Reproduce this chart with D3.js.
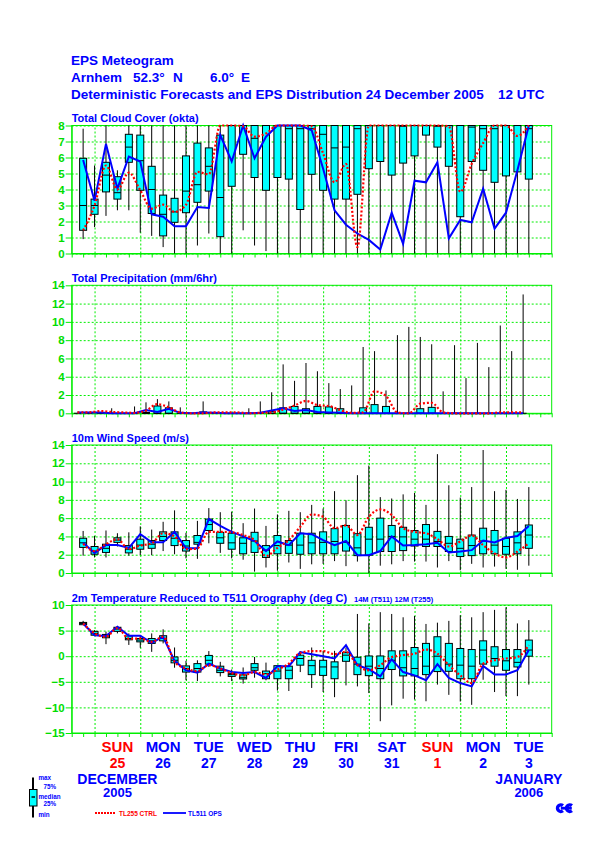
<!DOCTYPE html>
<html>
<head>
<meta charset="utf-8">
<script src="https://cdn.jsdelivr.net/npm/d3@7"></script>
<style>
  body { margin: 0; background: #fff; }
  text { font-family: "Liberation Sans", Arial, sans-serif; font-weight: bold; }
</style>
</head>
<body>
<div id="chart"></div>
<script>
// forecast steps of 6 h from 24 Dec 2005 12 UTC
const steps = d3.range(1, 41);
const precipSteps = steps.map(s => s - 0.5);

const dayNames = ["SUN", "MON", "TUE", "WED", "THU", "FRI", "SAT", "SUN", "MON", "TUE"];
const dayNumbers = ["25", "26", "27", "28", "29", "30", "31", "1", "2", "3"];
const daySteps = [4, 8, 12, 16, 20, 24, 28, 32, 36, 40];
const midnightSteps = [2, 6, 10, 14, 18, 22, 26, 30, 34, 38];

// Total cloud cover (okta)
const cloudMin = [0.9, 1.65, 2.35, 2.7, 2.7, 1.3, 1.1, 0.4, 0, 0, 0.5, 1.25, 0, 0, 1.45, 0.5, 0.15, 0, 0, 0, 0, 0, 0, 0, 0, 0, 0, 0, 0, 0, 0, 0, 0, 0, 0, 0, 0, 0, 0, 0];
const cloudQ25 = [1.45, 2.45, 3.85, 3.4, 5.7, 3.95, 2.5, 1.1, 1.95, 2.55, 3.2, 3.9, 1.05, 4.2, 6.2, 4.75, 3.95, 4.75, 4.65, 2.75, 4.95, 3.95, 3.4, 3.4, 3.7, 5.3, 5.75, 4.9, 5.65, 6.1, 7.4, 6.65, 5.45, 2.3, 5.75, 5.2, 4.45, 4.85, 5.1, 4.65];
const cloudMed = [3.0, 3.0, 4.9, 3.8, 6.65, 5.8, 4.0, 2.45, 2.6, 3.9, 4.3, 5.45, 3.5, 8, 8, 7.2, 8, 8, 7.8, 7.8, 7.8, 7.45, 6.6, 6.65, 7.8, 8, 8, 8, 7.95, 8, 8, 7.95, 8, 8, 7.9, 7.8, 7.8, 8, 8, 7.8];
const cloudQ75 = [5.95, 3.4, 5.7, 4.8, 7.45, 7.4, 5.45, 3.65, 3.45, 6.1, 6.9, 6.6, 7.4, 8, 8, 8, 8, 8, 8, 8, 8, 8, 8, 8, 8, 8, 8, 8, 8, 8, 8, 8, 8, 8, 8, 8, 8, 8, 8, 8];
const cloudMax = [7.8, 5.5, 8, 5.2, 8, 8, 8, 8, 8, 8, 8, 8, 8, 8, 8, 8, 8, 8, 8, 8, 8, 8, 8, 8, 8, 8, 8, 8, 8, 8, 8, 8, 8, 8, 8, 8, 8, 8, 8, 8];
const cloudCtrl = [1.45, 3.0, 5.5, 4.0, 5.05, 3.95, 2.8, 3.05, 2.6, 3.05, 5.1, 4.95, 8, 8, 7.95, 7.3, 7.5, 8, 8, 8, 7.95, 6.25, 4.45, 5.6, 0.4, 8, 8, 8, 8, 8, 8, 8, 7.95, 3.85, 5.6, 6.9, 8, 8, 7.35, 8];
const cloudOps = [5.85, 3.3, 6.85, 4.05, 6.05, 5.75, 2.45, 2.3, 1.7, 1.7, 2.9, 2.85, 7.4, 5.75, 8, 5.95, 7.3, 8, 8, 8, 7.7, 5.3, 2.7, 1.8, 1.25, 0.85, 0.25, 2.55, 0.6, 4.55, 4.45, 5.7, 0.95, 2.1, 1.95, 4.05, 1.55, 2.55, 5.2, 8];

// Total precipitation (mm/6hr)
const precipMin = steps.map(() => 0);
const precipQ25 = steps.map(() => 0);
const precipMed = steps.map(() => 0);
const precipQ75 = [0, 0, 0, 0, 0, 0, 0.1, 0.8, 0.6, 0, 0, 0.15, 0, 0, 0, 0, 0, 0.2, 0.6, 0.75, 0.5, 0.75, 0.7, 0.5, 0, 0.6, 0.95, 0.75, 0, 0, 0.5, 0.65, 0, 0, 0, 0, 0, 0, 0, 0];
const precipMax = [0, 0, 0, 0.55, 0, 0.75, 1.2, 1.55, 1.3, 0.65, 0, 1.3, 0, 0, 0, 0.55, 1.3, 2.3, 5.35, 3.55, 5.5, 4.6, 3.3, 2.65, 3.05, 7.25, 6.8, 2.5, 8.55, 9.45, 8.35, 7.55, 2.4, 7.45, 3.85, 7.7, 5.05, 9.6, 6.8, 13.0];
const precipCtrl = [0.1, 0.1, 0.25, 0.15, 0.1, 0.05, 0.3, 1.0, 0.65, 0.1, 0, 0, 0.1, 0.1, 0.1, 0, 0.05, 0.1, 0.4, 0.85, 1.35, 0.9, 0.8, 0.35, 0.05, 0.1, 2.4, 1.9, 0.1, 0, 1.05, 1.15, 0.1, 0, 0, 0, 0, 0.1, 0.1, 0.1];
const precipOps = [0.1, 0.1, 0.1, 0, 0, 0, 0.35, 0.15, 0.5, 0.05, 0, 0.1, 0.05, 0, 0, 0, 0.05, 0.3, 0.55, 0.25, 0.35, 0.15, 0.1, 0.05, 0, 0, 0, 0, 0, 0, 0, 0, 0, 0, 0, 0, 0, 0, 0, 0];

// 10m wind speed (m/s)
const windMin = [1.9, 1.7, 1.7, 2.9, 1.9, 1.95, 1.95, 2.4, 2.05, 1.6, 1.55, 3.25, 2.2, 1.6, 1.45, 0.15, 0.6, 0.25, 1.15, 0.45, 0.95, 1.0, 1.3, 0.75, 1.25, 0, 0.8, 0.95, 1.3, 1.25, 1.25, 0.6, 1.3, 0.3, 1.0, 0.6, 0.7, 0.45, 0.35, 0.8];
const windQ25 = [2.8, 2.05, 2.25, 3.35, 2.2, 2.6, 2.7, 3.55, 3.0, 2.4, 3.15, 4.65, 3.25, 2.6, 2.1, 2.25, 1.7, 2.1, 2.15, 2.05, 2.1, 2.1, 2.1, 2.4, 1.9, 1.95, 2.35, 2.35, 2.45, 2.95, 2.9, 2.9, 2.35, 1.8, 1.9, 2.1, 2.1, 2.05, 2.1, 2.7];
const windMed = [3.3, 2.4, 2.7, 3.6, 2.6, 3.05, 3.15, 4.0, 3.8, 2.95, 3.35, 5.3, 3.85, 3.3, 3.25, 3.5, 2.5, 3.0, 3.05, 3.05, 3.3, 3.35, 3.45, 3.35, 2.75, 3.7, 3.7, 4.0, 3.95, 3.7, 3.7, 3.45, 3.25, 2.7, 3.0, 3.5, 3.05, 2.9, 3.3, 4.15];
const windQ75 = [3.8, 2.9, 3.15, 3.85, 3.0, 3.7, 3.55, 4.5, 4.5, 3.55, 4.1, 5.9, 4.45, 4.35, 3.85, 4.45, 3.0, 4.1, 3.55, 4.35, 4.35, 4.5, 4.85, 5.2, 4.3, 5.0, 6.0, 5.2, 5.0, 4.65, 5.3, 4.55, 4.0, 3.7, 4.15, 4.9, 4.65, 3.8, 4.5, 5.25];
const windMax = [4.6, 4.05, 4.65, 4.35, 4.45, 5.1, 4.75, 5.6, 6.85, 4.4, 5.7, 7.1, 6.65, 6.7, 5.45, 7.05, 5.15, 6.4, 6.8, 6.65, 7.45, 7.05, 8.95, 7.95, 10.7, 11.75, 8.3, 8.15, 8.6, 8.75, 7.45, 13.0, 9.6, 8.25, 9.4, 13.45, 8.95, 9.1, 8.1, 9.4];
const windCtrl = [3.2, 2.4, 3.15, 3.7, 2.6, 3.0, 3.25, 4.35, 4.0, 2.6, 2.7, 4.5, 4.5, 4.45, 4.15, 3.6, 1.85, 2.75, 3.6, 5.05, 6.4, 6.15, 4.9, 5.2, 4.15, 6.15, 6.95, 6.35, 4.9, 4.5, 4.35, 3.7, 2.9, 3.45, 4.1, 3.05, 2.15, 1.7, 2.35, 3.25];
const windOps = [3.3, 2.2, 3.05, 3.05, 2.75, 4.25, 3.35, 3.35, 4.5, 2.7, 2.7, 5.9, 5.15, 4.5, 4.0, 3.5, 2.4, 3.45, 3.05, 4.35, 4.25, 3.6, 3.05, 3.5, 1.95, 1.95, 2.4, 4.0, 3.0, 3.05, 3.15, 3.3, 2.25, 2.35, 2.5, 3.55, 3.35, 3.85, 4.05, 5.15];

// 2m temperature (deg C)
const tempMin = [6.1, 4.0, 2.35, 4.45, 2.2, 1.65, 0.85, 2.5, -2.25, -4.7, -4.85, -2.1, -3.95, -4.85, -5.35, -4.2, -4.7, -6.7, -6.8, -3.1, -6.2, -7.0, -8.0, -5.7, -5.9, -7.2, -12.7, -9.6, -8.3, -8.45, -8.8, -5.55, -7.55, -8.85, -9.5, -4.6, -7.0, -7.8, -7.8, -5.55];
const tempQ25 = [6.15, 4.1, 3.6, 4.85, 3.2, 2.8, 2.5, 3.0, -1.3, -3.1, -3.1, -1.55, -3.2, -3.95, -4.45, -2.75, -4.4, -4.4, -4.4, -1.75, -3.6, -3.75, -4.4, -1.0, -3.6, -3.8, -4.4, -2.6, -3.85, -3.85, -3.6, -3.0, -2.95, -4.4, -4.4, -1.55, -1.95, -2.75, -2.1, 0.0];
const tempMed = [6.4, 4.45, 3.95, 5.3, 3.45, 3.15, 3.0, 3.45, -0.8, -2.4, -2.4, -0.8, -2.75, -3.6, -4.2, -2.25, -3.4, -2.9, -2.75, -0.45, -1.85, -2.1, -2.1, 0.2, -1.55, -1.95, -2.4, -0.8, -2.25, -2.4, -1.95, 0.0, -1.55, -1.75, -1.95, 1.2, -0.45, -0.9, -1.2, 1.2];
const tempQ75 = [6.6, 4.85, 4.25, 5.65, 3.95, 3.45, 3.45, 4.0, -0.15, -1.9, -1.45, 0.15, -1.95, -3.4, -3.65, -1.45, -2.9, -1.85, -1.95, 0.2, -0.8, -0.8, -1.1, 0.7, -0.2, 0.05, 0.05, 1.05, 1.05, 1.7, 2.5, 3.8, 2.5, 1.5, 1.3, 3.0, 1.85, 1.3, 1.3, 3.15];
const tempMax = [6.9, 5.1, 4.8, 5.9, 4.45, 4.1, 4.45, 5.25, 1.7, -0.9, -0.8, 1.0, -1.1, -2.6, -2.2, -0.15, -1.25, -1.75, -1.55, 1.0, 1.7, 1.05, 1.05, 1.7, 8.25, 6.4, 8.6, 8.25, 7.6, 7.85, 6.3, 6.55, 6.9, 8.0, 7.6, 8.6, 9.05, 9.55, 6.4, 7.05];
const tempCtrl = [6.4, 4.45, 3.8, 5.5, 3.45, 3.45, 2.8, 3.8, -1.1, -2.4, -2.9, -1.75, -2.4, -3.3, -3.75, -3.1, -3.55, -2.6, -1.45, 0.65, 1.0, 1.0, 0.4, 0.85, -1.75, -2.75, -1.75, -0.15, 0.2, 0.5, 1.3, 0.5, -1.75, -3.75, -5.25, -1.45, -0.8, -0.45, -0.15, 2.15];
const tempOps = [6.4, 4.1, 3.95, 5.75, 4.0, 4.0, 2.6, 3.8, -0.9, -2.75, -3.2, -1.45, -2.4, -3.1, -3.3, -3.1, -4.25, -1.95, -1.95, 0.8, 0.4, 0.0, -0.45, 2.15, -1.75, -2.55, -3.95, -0.6, -3.1, -3.75, -4.7, -1.55, -4.25, -5.25, -5.9, -1.9, -3.55, -3.55, -2.75, 1.2];

const svgWidth = 595;
const svgHeight = 842;

const plotLeft = 71.7;
const plotRight = 551.7;
const panelHeight = 128;

const blue = "#0000ff";
const red = "#ff0000";
const green = "#00ee00";
const cyan = "#00ffff";

const svg = d3.select("#chart")
    .append("svg")
    .attr("width", svgWidth)
    .attr("height", svgHeight);

const x = d3.scaleLinear()
    .domain([0, 42])
    .range([plotLeft, plotRight]);

function drawPanel(top, p) {

    const y = d3.scaleLinear()
        .domain(p.domain)
        .range([top + panelHeight, top]);

    const g = svg.append("g");

    // horizontal grid
    g.append("g")
        .attr("transform", `translate(${plotLeft}, 0)`)
        .call(d3.axisLeft(y).tickValues(p.ticks).tickSize(-(plotRight - plotLeft)).tickFormat(""))
        .call(a => a.select(".domain").remove())
        .selectAll("line")
        .attr("stroke", green)
        .attr("stroke-dasharray", "2,2");

    // vertical grid at 00 UTC
    g.append("g")
        .attr("transform", `translate(0, ${top + panelHeight})`)
        .call(d3.axisBottom(x).tickValues(midnightSteps).tickSize(-panelHeight).tickFormat(""))
        .call(a => a.select(".domain").remove())
        .selectAll("line")
        .attr("stroke", green)
        .attr("stroke-dasharray", "2,2");

    // left axis with labels
    const leftAxis = g.append("g")
        .attr("transform", `translate(${plotLeft}, 0)`)
        .call(d3.axisLeft(y).tickValues(p.ticks).tickSize(6).tickPadding(1).tickSizeOuter(0));
    leftAxis.selectAll("line").attr("stroke", green);
    leftAxis.select(".domain").attr("stroke", green);
    leftAxis.selectAll("text")
        .attr("fill", "#00dd00")
        .style("font-size", "11.5px")
        .style("font-family", "'Liberation Sans', Arial, sans-serif")
        .style("font-weight", "bold");

    // bottom axis with step ticks
    const bottomAxis = g.append("g")
        .attr("transform", `translate(0, ${top + panelHeight})`)
        .call(d3.axisBottom(x).tickValues(d3.range(0, 43)).tickSize(4).tickSizeOuter(0).tickFormat(""));
    bottomAxis.selectAll("line").attr("stroke", green);
    bottomAxis.select(".domain").attr("stroke", green);

    // frame
    g.append("rect")
        .attr("x", plotLeft)
        .attr("y", top)
        .attr("width", plotRight - plotLeft)
        .attr("height", panelHeight)
        .attr("fill", "none")
        .attr("stroke", green);

    // title
    g.append("text")
        .attr("x", plotLeft)
        .attr("y", top - 3.5)
        .attr("fill", blue)
        .style("font-size", "11px")
        .text(p.title);
    if (p.note) {
        g.append("text")
            .attr("x", 354)
            .attr("y", top - 3)
            .attr("fill", blue)
            .style("font-size", "7.5px")
            .text(p.note);
    }

    const rows = p.xs.map((s, j) => ({
        s: s,
        min: p.min[j],
        q25: p.q25[j],
        med: p.med[j],
        q75: p.q75[j],
        max: p.max[j]
    }));

    const boxes = g.append("g").selectAll("g")
        .data(rows)
        .enter()
        .append("g");

    boxes.append("line")
        .attr("x1", d => x(d.s))
        .attr("x2", d => x(d.s))
        .attr("y1", d => y(d.min))
        .attr("y2", d => y(d.max))
        .attr("stroke", "#000")
        .attr("stroke-width", 1);

    boxes.append("rect")
        .attr("x", d => x(d.s) - 3.5)
        .attr("width", 7)
        .attr("y", d => y(d.q75))
        .attr("height", d => y(d.q25) - y(d.q75))
        .attr("fill", cyan)
        .attr("stroke", "#000")
        .attr("stroke-width", 1);

    boxes.append("line")
        .attr("x1", d => x(d.s) - 3.5)
        .attr("x2", d => x(d.s) + 3.5)
        .attr("y1", d => y(d.med))
        .attr("y2", d => y(d.med))
        .attr("stroke", "#000")
        .attr("stroke-width", 1);

    const opsLine = d3.line()
        .x((d, j) => x(p.xs[j]))
        .y(d => y(d));

    const ctrlLine = d3.line()
        .x((d, j) => x(p.xs[j]))
        .y(d => y(d))
        .curve(d3.curveMonotoneX);

    g.append("path")
        .datum(p.ops)
        .attr("d", opsLine)
        .attr("fill", "none")
        .attr("stroke", blue)
        .attr("stroke-width", 2);

    g.append("path")
        .datum(p.ctrl)
        .attr("d", ctrlLine)
        .attr("fill", "none")
        .attr("stroke", red)
        .attr("stroke-width", 2.2)
        .attr("stroke-dasharray", "2,2");
}

// header
const header = svg.append("g").attr("fill", blue).style("font-size", "13.5px");
header.append("text").attr("x", 71).attr("y", 65).text("EPS Meteogram");
header.append("text").attr("x", 71).attr("y", 82).text("Arnhem");
header.append("text").attr("x", 133).attr("y", 82).text("52.3°");
header.append("text").attr("x", 173).attr("y", 82).text("N");
header.append("text").attr("x", 210).attr("y", 82).text("6.0°");
header.append("text").attr("x", 241).attr("y", 82).text("E");
header.append("text").attr("x", 71).attr("y", 99)
    .text("Deterministic Forecasts and EPS Distribution 24 December 2005");
header.append("text").attr("x", 498).attr("y", 99).text("12 UTC");

drawPanel(125.5, {
    title: "Total Cloud Cover (okta)",
    domain: [0, 8], ticks: d3.range(0, 9),
    xs: steps, min: cloudMin, q25: cloudQ25, med: cloudMed, q75: cloudQ75, max: cloudMax,
    ctrl: cloudCtrl, ops: cloudOps
});

drawPanel(285.3, {
    title: "Total Precipitation (mm/6hr)",
    domain: [0, 14], ticks: d3.range(0, 15, 2),
    xs: precipSteps, min: precipMin, q25: precipQ25, med: precipMed, q75: precipQ75, max: precipMax,
    ctrl: precipCtrl, ops: precipOps
});

drawPanel(445, {
    title: "10m Wind Speed (m/s)",
    domain: [0, 14], ticks: d3.range(0, 15, 2),
    xs: steps, min: windMin, q25: windQ25, med: windMed, q75: windQ75, max: windMax,
    ctrl: windCtrl, ops: windOps
});

drawPanel(605, {
    title: "2m Temperature Reduced to T511 Orography (deg C)",
    note: "14M (T511) 12M (T255)",
    domain: [-15, 10], ticks: d3.range(-15, 11, 5),
    xs: steps, min: tempMin, q25: tempQ25, med: tempMed, q75: tempQ75, max: tempMax,
    ctrl: tempCtrl, ops: tempOps
});

// day labels
const days = svg.append("g").attr("text-anchor", "middle");
days.selectAll(".dayName")
    .data(dayNames)
    .enter()
    .append("text")
    .attr("x", (d, i) => x(daySteps[i]))
    .attr("y", 752)
    .attr("fill", d => d === "SUN" ? red : blue)
    .style("font-size", "15px")
    .text(d => d);

days.selectAll(".dayNumber")
    .data(dayNumbers)
    .enter()
    .append("text")
    .attr("x", (d, i) => x(daySteps[i]))
    .attr("y", 767.5)
    .attr("fill", (d, i) => dayNames[i] === "SUN" ? red : blue)
    .style("font-size", "14px")
    .text(d => d);

days.append("text").attr("x", x(4)).attr("y", 783.5).attr("fill", blue)
    .style("font-size", "14px").text("DECEMBER");
days.append("text").attr("x", x(4)).attr("y", 797).attr("fill", blue)
    .style("font-size", "13px").text("2005");
days.append("text").attr("x", x(40)).attr("y", 783.5).attr("fill", blue)
    .style("font-size", "14px").text("JANUARY");
days.append("text").attr("x", x(40)).attr("y", 797).attr("fill", blue)
    .style("font-size", "13px").text("2006");

// legend: box plot key
const key = svg.append("g");
key.append("line").attr("x1", 33).attr("x2", 33).attr("y1", 777.5).attr("y2", 817.5)
    .attr("stroke", "#000").attr("stroke-width", 2);
key.append("rect").attr("x", 29.5).attr("y", 789.5).attr("width", 7.5).attr("height", 16.5)
    .attr("fill", cyan).attr("stroke", "#000");
key.append("line").attr("x1", 31.5).attr("x2", 35).attr("y1", 797).attr("y2", 797)
    .attr("stroke", "#000").attr("stroke-width", 1.5);
const keyLabels = [["max", 38.5, 779.5], ["75%", 43.5, 789], ["median", 38.5, 799], ["25%", 43.5, 805.5], ["min", 38.5, 816.5]];
key.selectAll(".keyLabel")
    .data(keyLabels)
    .enter()
    .append("text")
    .attr("x", d => d[1])
    .attr("y", d => d[2])
    .attr("fill", blue)
    .style("font-size", "6.3px")
    .text(d => d[0]);

// legend: lines
key.append("line").attr("x1", 95).attr("x2", 116).attr("y1", 813).attr("y2", 813)
    .attr("stroke", red).attr("stroke-width", 1.8).attr("stroke-dasharray", "2,1");
key.append("text").attr("x", 119).attr("y", 815.5).attr("fill", red)
    .style("font-size", "6.5px").text("TL255 CTRL");
key.append("line").attr("x1", 163).attr("x2", 186).attr("y1", 813).attr("y2", 813)
    .attr("stroke", blue).attr("stroke-width", 1.8);
key.append("text").attr("x", 188).attr("y", 815.5).attr("fill", blue)
    .style("font-size", "6.5px").text("TL511 OPS");

// logo
const logoArc = d3.arc().innerRadius(1.6).outerRadius(5).startAngle(0.78 * Math.PI).endAngle(2.22 * Math.PI);
[560.8, 569.8].forEach(cx => {
    svg.append("path")
        .attr("transform", `translate(${cx}, 808.2)`)
        .attr("d", logoArc)
        .attr("fill", blue);
});
svg.append("rect").attr("x", 560.8).attr("y", 806.8).attr("width", 11).attr("height", 2.8).attr("fill", blue);
</script>
</body>
</html>
